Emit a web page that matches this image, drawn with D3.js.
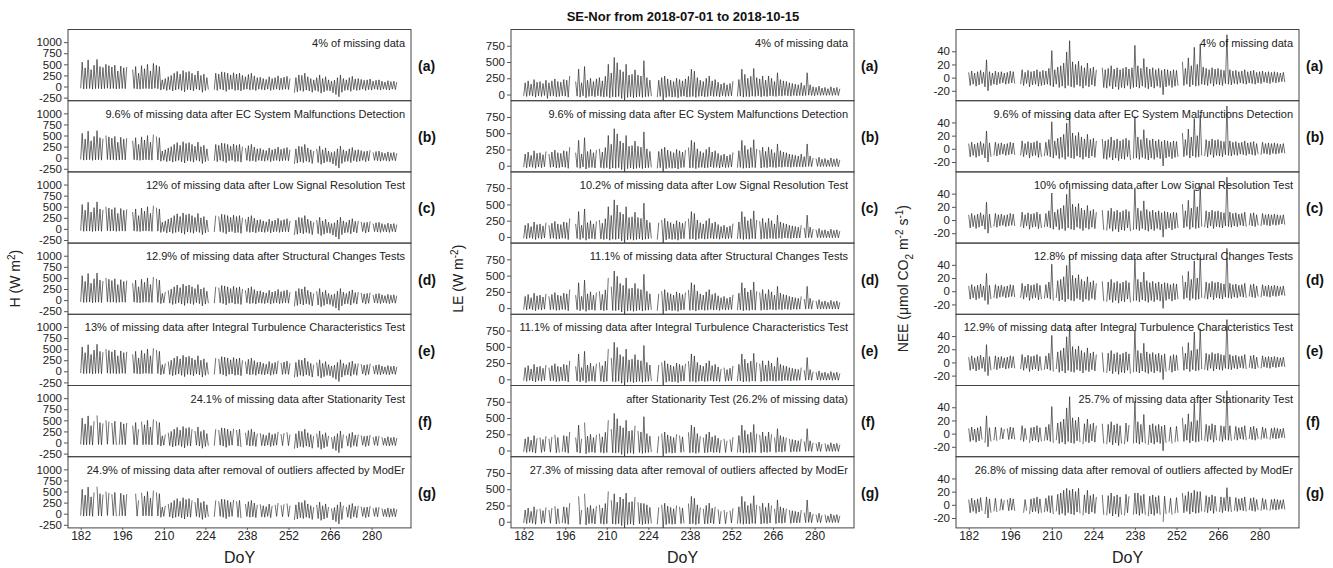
<!DOCTYPE html>
<html>
<head>
<meta charset="utf-8">
<script src="https://cdn.jsdelivr.net/npm/d3@7"></script>
<style>
  body { margin: 0; background: #fff; }
  svg { font-family: "Liberation Sans", Arial, sans-serif; }
</style>
</head>
<body>
<svg id="svg" width="1333" height="568"></svg>
<script>

// day of year 182 (2018-07-01) .. 288 (2018-10-15)
const days = d3.range(182, 289)

// daily daytime peak / night-time low (approximate)
const hMax = [
  550, 420, 600, 380, 480, 610, 450, 430, 500, 470, 440, 480, 350, 460, 420, 440, // 182-197
  300,                                                                          // 198
  380, 450, 300, 470, 400, 500, 350, 520, 480, 450,                             // 199-208
  150, 180, 220, 250, 300, 340, 280, 360, 320, 340, 300, 260, 350, 250, 280, 200, 150, // 209-225
  200,                                                                          // 226
  300, 280, 330, 320, 300, 260, 310, 280, 300, 250, 220, 270, 300, 240, 200, 210, 180, 160, 220, 180, 200, 240, 190, 210, 230, 180, // 227-252
  150,                                                                          // 253
  200, 260, 250, 300, 220, 180, 150, 200, 260, 180, 220, 150, 120, 140, 200, 260, 180, 150, 200, 230, 170, 180, 160, 140, 150, 170, 120, 140, 150, 120, 100, 130, 110, 120, 100 // 254-288
]
const hMin = [
  -40, -55, -50, -45, -60, -50, -45, -55, -50, -40, -50, -45, -55, -50, -45, -50,
  -40,
  -50, -45, -55, -60, -50, -45, -50, -55, -40, -50,
  -80, -60, -90, -70, -100, -80, -60, -90, -120, -70, -80, -100, -60, -80, -130, -90, -70,
  -60,
  -70, -90, -60, -80, -110, -70, -60, -90, -80, -100, -70, -60, -80, -70, -90, -60, -70, -80, -60, -90, -70, -60, -80, -70, -60, -70,
  -80,
  -140, -120, -90, -110, -80, -100, -130, -90, -110, -150, -120, -90, -100, -140, -180, -230, -130, -90, -80, -110, -70, -90, -80, -60, -90, -70, -80, -60, -70, -80, -60, -70, -80, -60, -70
]
const leMax = [
  180, 210, 160, 230, 190, 200, 170, 220, 180, 210, 240, 200, 190, 230, 220, 285,
  150,
  200, 390, 180, 430, 220, 250, 200, 240, 260, 210,
  280, 465, 330, 570, 490, 380, 350, 465, 300, 310, 380, 300, 285, 520, 260, 220, 180,
  150,
  220, 260, 285, 240, 220, 200, 250, 230, 210, 240, 280, 390, 360, 260, 220, 200, 250, 285, 210, 230, 190, 160, 180, 150, 170, 205,
  150,
  230, 390, 310, 250, 280, 400, 260, 240, 285, 220, 285, 250, 200, 335, 230, 210, 200, 180, 170, 160, 150, 180, 140, 335, 150, 120, 110, 130, 100, 110, 90, 120, 100, 110, 90
]
const leMin = [
  -20, -30, -15, -25, -40, -20, -30, -15, -60, -25, -20, -35, -30, -20, -25, -40,
  -20,
  -30, -25, -40, -20, -50, -30, -25, -35, -20, -30,
  -40, -30, -50, -35, -40, -30, -60, -100, -45, -35, -50, -40, -30, -45, -35, -30, -25,
  -30,
  -40, -30, -100, -45, -30, -40, -35, -50, -30, -25, -40, -35, -30, -45, -30, -25, -35, -30, -20, -30, -25, -35, -20, -30, -25, -20,
  -20,
  -30, -25, -40, -30, -35, -25, -30, -20, -35, -25, -30, -20, -25, -30, -20, -25, -15, -20, -25, -15, -20, -15, -20, -15, -10, -15, -20, -10, -15, -10, -15, -10, -15, -10, -15
]
// NEE: night-time release (positive), daytime uptake (negative)
const neeMax = [
  8, 10, 7, 9, 11, 8, 27, 9, 7, 10, 8, 9, 7, 8, 10, 9,
  6,
  10, 12, 8, 11, 9, 10, 12, 9, 11, 10,
  14, 41, 12, 16, 18, 22, 39, 56, 24, 20, 25, 18, 15, 22, 14, 16, 12,
  10,
  15, 12, 14, 18, 13, 15, 12, 14, 16, 13, 15, 49, 18, 14, 29, 16, 13, 15, 12, 14, 11, 13, 12, 10, 12, 11,
  10,
  24, 14, 30, 18, 46, 20, 51, 16, 14, 12, 15, 13, 14, 12, 11, 65, 12, 10, 11, 9, 10, 12, 9, 10, 11, 8, 9, 10, 8, 9, 8, 9, 8, 7, 8
]
const neeMin = [
  -12, -10, -13, -11, -9, -14, -20, -12, -10, -11, -9, -8, -10, -9, -8, -9,
  -8,
  -10, -12, -9, -14, -11, -10, -13, -12, -11, -10,
  -12, -14, -10, -15, -13, -16, -12, -14, -15, -11, -13, -16, -12, -14, -11, -13, -10,
  -12,
  -15, -16, -13, -17, -14, -18, -15, -16, -12, -17, -15, -14, -16, -13, -15, -17, -14, -16, -13, -15, -26, -14, -12, -15, -13, -12,
  -10,
  -12, -10, -14, -11, -13, -12, -10, -11, -12, -9, -13, -10, -11, -12, -9, -10, -11, -9, -10, -8, -9, -10, -8, -9, -10, -8, -9, -7, -8, -9, -7, -8, -7, -6, -7
]

// missing data: gaps in the raw record, then points removed at each QC step (cumulative)
const gapRanges = [[197.8, 199.2], [225.3, 226.7], [252.6, 253.9]]
const missB = [190, 207, 237, 261, 280]
const missC = [228, 276]
const missD = [211]
const missE = [249]
const missF = [187, 192, 202, 220, 234, 242, 251, 266, 271, 283, 194.5, 236.5]
const missG = [200, 247]
// values left after removal of outliers affected by ModEr (row g): [time, value]
const modErH = []
const modErLE = [[212.5, 430], [213.5, 300], [216.5, 440], [222.5, 280]]
const modErNEE = [[188, 12], [210, 14], [215, 25], [216, 22], [238, 18], [241, 16], [254, 18],
  [256, 20], [258, 22], [260, 20], [269, 26]]

const rowLetters = ['(a)', '(b)', '(c)', '(d)', '(e)', '(f)', '(g)']
const textsH = [
  '4% of missing data',
  '9.6% of missing data after EC System Malfunctions Detection',
  '12% of missing data after Low Signal Resolution Test',
  '12.9% of missing data after Structural Changes Tests',
  '13% of missing data after Integral Turbulence Characteristics Test',
  '24.1% of missing data after Stationarity Test',
  '24.9% of missing data after removal of outliers affected by ModEr'
]
const textsLE = [
  '4% of missing data',
  '9.6% of missing data after EC System Malfunctions Detection',
  '10.2% of missing data after Low Signal Resolution Test',
  '11.1% of missing data after Structural Changes Tests',
  '11.1% of missing data after Integral Turbulence Characteristics Test',
  'after Stationarity Test (26.2% of missing data)',
  '27.3% of missing data after removal of outliers affected by ModEr'
]
const textsNEE = [
  '4% of missing data',
  '9.6% of missing data after EC System Malfunctions Detection',
  '10% of missing data after Low Signal Resolution Test',
  '12.8% of missing data after Structural Changes Tests',
  '12.9% of missing data after Integral Turbulence Characteristics Test',
  '25.7% of missing data after Stationarity Test',
  '26.8% of missing data after removal of outliers affected by ModEr'
]
const xTicks = [182, 196, 210, 224, 238, 252, 266, 280]
const hTicks = [-250, 0, 250, 500, 750, 1000]
const leTicks = [0, 250, 500, 750]
const neeTicks = [-20, 0, 20, 40]

const panelTop = 29.5
const panelW = 343
const panelH = 71.2
const colLeft = [68, 511, 956]

const columns = [
  { night: hMin, day: hMax, domain: [-320, 1285], ticks: hTicks, texts: textsH, modEr: modErH },
  { night: leMin, day: leMax, domain: [-95, 1000], ticks: leTicks, texts: textsLE, modEr: modErLE },
  { night: neeMax, day: neeMin, domain: [-35, 73], ticks: neeTicks, texts: textsNEE, modEr: modErNEE }
]
// axis titles as [text, shift] pieces: shift -1 superscript, +1 subscript
const yTitles = [
  [['H (W m', 0], ['2', -1], [')', 0]],
  [['LE (W m', 0], ['-2', -1], [')', 0]],
  [['NEE (\u03bcmol CO', 0], ['2', 1], [' m', 0], ['-2', -1], [' s', 0], ['-1', -1], [')', 0]]
]
const rowMiss = [[], missB, missC, missD, missE, missF, missG]

const svg = d3.select('#svg')

const x = d3.scaleLinear().domain([177.72, 293.28]).range([0, panelW])

const isMissing = (t, ri) => {
  if (gapRanges.some(r => t >= r[0] && t <= r[1])) return true
  for (let k = 1; k <= ri; k++) {
    if (rowMiss[k].some(m => Math.abs(m - t) < 0.01)) return true
  }
  return false
}

svg.append('text')
  .attr('x', 683)
  .attr('y', 21)
  .attr('text-anchor', 'middle')
  .attr('font-weight', 'bold')
  .attr('font-size', 13)
  .attr('fill', '#111')
  .text('SE-Nor from 2018-07-01 to 2018-10-15')

columns.forEach((col, ci) => {
  const y = d3.scaleLinear().domain(col.domain).range([panelH, 0])

  const pts = []
  days.forEach((d, i) => {
    pts.push({ t: d, v: col.night[i] })
    pts.push({ t: d + 0.5, v: col.day[i] })
  })

  const clipId = 'clip' + ci
  svg.append('clipPath').attr('id', clipId)
    .append('rect').attr('width', panelW).attr('height', panelH)

  rowLetters.forEach((letter, ri) => {
    const g = svg.append('g')
      .attr('transform', `translate(${colLeft[ci]}, ${panelTop + ri * panelH})`)

    g.append('text')
      .attr('x', panelW - 6)
      .attr('y', 17)
      .attr('text-anchor', 'end')
      .attr('font-size', 11)
      .attr('fill', '#222')
      .text(col.texts[ri])

    let rowPts = pts
    if (ri === 6) {
      rowPts = pts.map(p => {
        const r = col.modEr.find(m => Math.abs(m[0] - p.t) < 0.01)
        return r ? { t: p.t, v: r[1] } : p
      })
    }

    const line = d3.line()
      .defined(d => d.v !== undefined && !isMissing(d.t, ri))
      .x(d => x(d.t))
      .y(d => y(d.v))

    g.append('path')
      .datum(rowPts)
      .attr('clip-path', `url(#${clipId})`)
      .attr('fill', 'none')
      .attr('stroke', '#222')
      .attr('stroke-width', 0.65)
      .attr('d', line)

    g.append('rect')
      .attr('width', panelW)
      .attr('height', panelH)
      .attr('fill', 'none')
      .attr('stroke', '#444')
      .attr('stroke-width', 1)

    const yAxis = g.append('g')
      .call(d3.axisLeft(y).tickValues(col.ticks).tickFormat(d => String(d)).tickSize(4).tickPadding(2))
    yAxis.select('.domain').remove()
    yAxis.selectAll('line').attr('stroke', '#555')
    yAxis.selectAll('text')
      .attr('font-size', 11.5)
      .attr('font-family', '"Liberation Sans", Arial, sans-serif')
      .attr('fill', '#222')

    g.append('text')
      .attr('x', panelW + 7)
      .attr('y', panelH / 2 + 6)
      .attr('font-weight', 'bold')
      .attr('font-size', 14)
      .attr('fill', '#111')
      .text(letter)

    if (ri === rowLetters.length - 1) {
      const xAxis = g.append('g')
        .attr('transform', `translate(0, ${panelH})`)
        .call(d3.axisBottom(x).tickValues(xTicks).tickFormat(d => String(d)).tickSize(2).tickPadding(2))
      xAxis.select('.domain').remove()
      xAxis.selectAll('line').attr('stroke', '#555')
      xAxis.selectAll('text')
        .attr('font-size', 12)
        .attr('font-family', '"Liberation Sans", Arial, sans-serif')
        .attr('fill', '#222')

      g.append('text')
        .attr('x', panelW / 2)
        .attr('y', panelH + 35)
        .attr('text-anchor', 'middle')
        .attr('font-size', 16)
        .attr('fill', '#222')
        .text('DoY')
    }
  })

  // y axis title
  const midY = panelTop + panelH * 3.5
  const yTitle = svg.append('text')
    .attr('transform', `translate(${colLeft[ci] - 48}, ${midY}) rotate(-90)`)
    .attr('text-anchor', 'middle')
    .attr('font-size', 14)
    .attr('fill', '#222')

  let prev = 0
  yTitles[ci].forEach(([txt, shift]) => {
    const off = shift * 5
    yTitle.append('tspan')
      .attr('dy', off - prev)
      .attr('font-size', shift === 0 ? 14 : 10)
      .text(txt)
    prev = off
  })
})

</script>
</body>
</html>
